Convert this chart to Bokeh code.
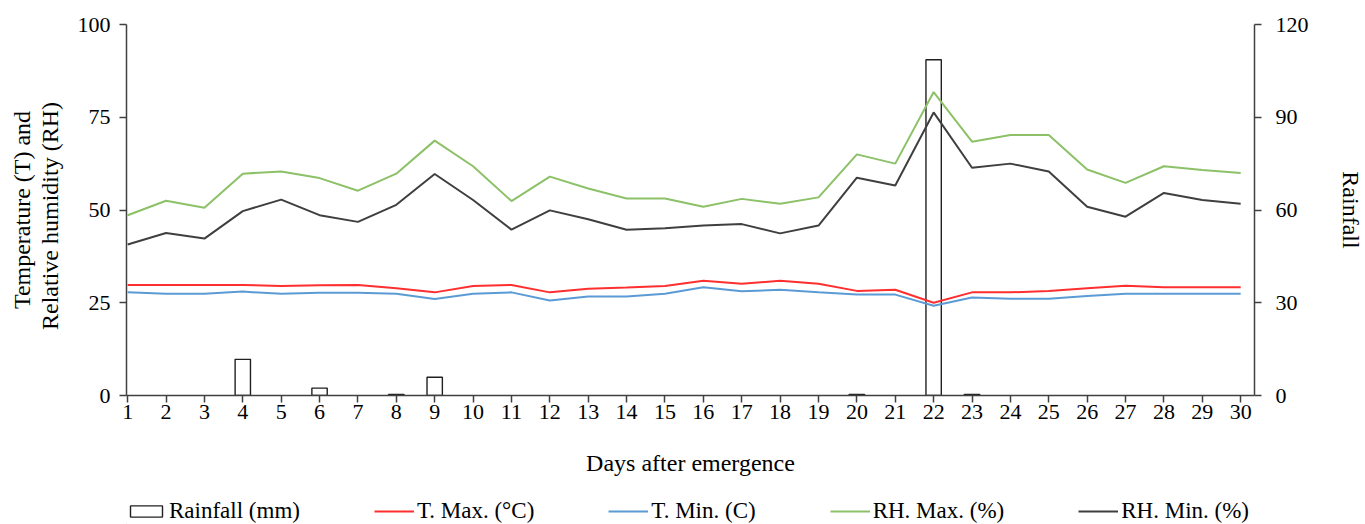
from bokeh.plotting import figure
from bokeh.models import Range1d, LinearAxis, Legend, LegendItem, FixedTicker, ColumnDataSource
from bokeh.layouts import column
from bokeh.embed import file_html
from bokeh.resources import INLINE

days = list(range(1, 31))
rainfall = [0, 0, 0, 11.7, 0, 2.4, 0, 0.3, 5.9, 0,
            0, 0, 0, 0, 0, 0, 0, 0, 0, 0.3,
            0, 108.6, 0.3, 0, 0, 0, 0, 0, 0, 0]
t_max = [29.8, 29.8, 29.8, 29.8, 29.5, 29.7, 29.8, 28.9, 27.8, 29.5,
         29.8, 27.8, 28.8, 29.1, 29.5, 30.9, 30.1, 30.9, 30.1, 28.2,
         28.5, 25.0, 27.8, 27.8, 28.2, 28.9, 29.6, 29.2, 29.2, 29.2]
t_min = [27.8, 27.4, 27.4, 28.0, 27.4, 27.7, 27.7, 27.4, 26.0, 27.4,
         27.8, 25.6, 26.7, 26.7, 27.4, 29.2, 28.1, 28.5, 27.8, 27.2,
         27.2, 24.2, 26.4, 26.1, 26.1, 26.8, 27.4, 27.4, 27.4, 27.4]
rh_max = [48.6, 52.5, 50.6, 59.8, 60.4, 58.6, 55.2, 59.8, 68.7, 61.8,
          52.4, 59.0, 55.8, 53.1, 53.1, 50.9, 53.0, 51.7, 53.4, 65.0,
          62.5, 81.8, 68.4, 70.2, 70.2, 60.9, 57.3, 61.8, 60.8, 60.0]
rh_min = [40.7, 43.8, 42.3, 49.7, 52.8, 48.6, 46.8, 51.4, 59.7, 52.7,
          44.7, 49.9, 47.5, 44.7, 45.1, 45.8, 46.2, 43.7, 45.8, 58.7,
          56.6, 76.3, 61.4, 62.5, 60.4, 50.9, 48.2, 54.6, 52.7, 51.7]
left_ticks = [0, 25, 50, 75, 100]
right_ticks = [0, 30, 60, 90, 120]
legend_labels = ["Rainfall (mm)", "T. Max. (°C)", "T. Min. (C)", "RH. Max. (%)", "RH. Min. (%)"]

FONT = "Liberation Serif"
AX = "#404040"
C_TMAX, C_TMIN, C_RHMAX, C_RHMIN = "#FF2F2F", "#5B9BD5", "#8CC168", "#3F3F3F"

p = figure(frame_width=1128, frame_height=371, output_backend="svg", toolbar_location=None,
           x_range=Range1d(0.97, 30.36), y_range=Range1d(0, 100),
           min_border_left=126, min_border_right=111, min_border_top=24,
           min_border_bottom=95)
p.extra_y_ranges = {"rain": Range1d(0, 120)}
p.outline_line_color = None
p.xgrid.visible = False
p.ygrid.visible = False

src = ColumnDataSource(dict(day=days, tmax=t_max, tmin=t_min, rhmax=rh_max, rhmin=rh_min))
rain_src = ColumnDataSource(dict(
    day=[d for d, r in zip(days, rainfall) if r > 0],
    rain=[r for r in rainfall if r > 0]))

BAR_STYLE = dict(fill_color="white", line_color="#202020", line_width=1.4)
p.vbar(x="day", top="rain", width=0.4, bottom=0, source=rain_src,
       y_range_name="rain", **BAR_STYLE)
p.line("day", "tmax", source=src, line_color=C_TMAX, line_width=2)
p.line("day", "tmin", source=src, line_color=C_TMIN, line_width=2)
p.line("day", "rhmax", source=src, line_color=C_RHMAX, line_width=2)
p.line("day", "rhmin", source=src, line_color=C_RHMIN, line_width=2)

def style(ax):
    ax.major_label_text_font = FONT
    ax.major_label_text_font_size = "22px"
    ax.major_label_text_color = "black"
    ax.axis_label_text_font = FONT
    ax.axis_label_text_font_size = "24px"
    ax.axis_label_text_font_style = "normal"
    ax.axis_label_text_color = "black"
    ax.axis_line_color = AX
    ax.axis_line_width = 1.5
    ax.major_tick_line_color = AX
    ax.major_tick_line_width = 1.5
    ax.minor_tick_line_color = None
    ax.major_tick_in = 0
    ax.major_tick_out = 7

xa = p.xaxis[0]
style(xa)
xa.ticker = FixedTicker(ticks=days)
xa.axis_label = "Days after emergence"
xa.major_label_standoff = 2
xa.axis_label_standoff = 28

ya = p.yaxis[0]
style(ya)
ya.ticker = FixedTicker(ticks=left_ticks)
ya.axis_label = "Temperature (T) and\nRelative  humidity  (RH)"
ya.axis_label_text_line_height = 1.05
ya.major_label_standoff = 9
ya.axis_label_standoff = 12

ra = LinearAxis(y_range_name="rain", axis_label="Rainfall")
style(ra)
ra.ticker = FixedTicker(ticks=right_ticks)
ra.major_label_standoff = 14
ra.axis_label_standoff = 26
ra.axis_label_orientation = "vertical"
p.add_layout(ra, "right")

# Legend strip below the chart (its frame is aligned with the chart's frame)
lg = figure(width=1365, height=34, output_backend="svg", toolbar_location=None,
            x_axis_location=None, y_axis_location=None, min_border=0,
            x_range=Range1d(0, 1), y_range=Range1d(0, 1))
lg.outline_line_color = None
lg.xgrid.visible = False
lg.ygrid.visible = False
# keys for the legend, kept outside the visible range of the strip
lr_bar = lg.vbar(x=[-5], top=[-4], bottom=[-5], width=0.4, **BAR_STYLE)
lr_tmax = lg.line(x=[-5, -4], y=[-5, -5], line_color=C_TMAX, line_width=2)
lr_tmin = lg.line(x=[-5, -4], y=[-5, -5], line_color=C_TMIN, line_width=2)
lr_rhmax = lg.line(x=[-5, -4], y=[-5, -5], line_color=C_RHMAX, line_width=2)
lr_rhmin = lg.line(x=[-5, -4], y=[-5, -5], line_color=C_RHMIN, line_width=2)

legend = Legend(items=[LegendItem(label=lab, renderers=[r]) for lab, r in
                       zip(legend_labels, [lr_bar, lr_tmax, lr_tmin, lr_rhmax, lr_rhmin])],
                orientation="horizontal", location=(0, 0))
legend.label_text_font = FONT
legend.label_text_font_size = "23px"
legend.label_text_color = "black"
legend.glyph_width = 40
legend.glyph_height = 14
legend.label_standoff = 3
legend.spacing = 74
legend.border_line_color = None
legend.background_fill_alpha = 0
legend.padding = 0
legend.margin = 0
lg.add_layout(legend, "center")

open("out.html", "w").write(file_html(column(p, lg, spacing=0), INLINE))
